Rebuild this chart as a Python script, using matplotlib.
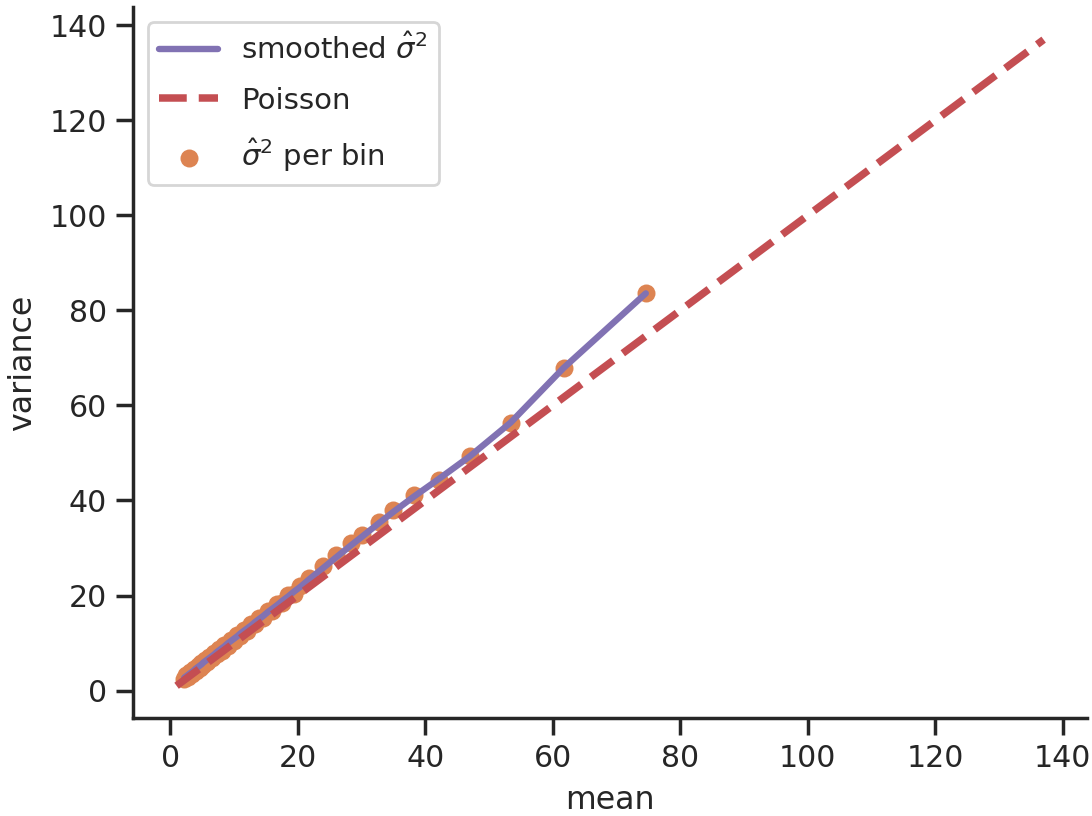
import matplotlib
matplotlib.use('Agg')
import matplotlib.pyplot as plt
import seaborn as sns

# Per-bin mean counts and their sample variances
bin_mean = [2.2, 2.5, 2.8, 3.1, 3.4, 3.7, 4.0, 4.3, 4.6, 4.9,
            5.2, 5.5, 5.8, 6.1, 6.5, 6.9, 7.3, 7.7, 8.1, 8.5,
            9.0, 9.5, 10.0, 10.5, 11.0, 11.5, 12.1, 12.7, 13.3, 13.9,
            14.6, 15.3, 16.0, 16.8, 17.6, 18.5, 19.4, 20.4, 21.8, 24.0,
            26.0, 28.3, 30.1, 32.8, 35.0, 38.2, 42.1, 47.0, 53.4, 61.7,
            74.6]
bin_var = [2.4, 3.2, 2.9, 3.9, 3.4, 4.5, 4.1, 5.2, 4.7, 5.8,
           5.4, 6.5, 6.0, 7.1, 6.8, 7.9, 7.6, 8.8, 8.4, 9.6,
           9.4, 10.7, 10.4, 11.7, 11.5, 12.8, 12.6, 14.0, 13.9, 15.3,
           15.2, 16.8, 16.7, 18.3, 18.4, 20.1, 20.3, 22.0, 23.7, 26.3,
           28.5, 31.0, 32.7, 35.4, 37.9, 41.1, 44.4, 49.3, 56.3, 67.9,
           83.6]
# Smoothed variance evaluated at the same bin means
smooth_var = [2.7, 3.0, 3.3, 3.6, 3.9, 4.2, 4.6, 4.9, 5.2, 5.5,
              5.9, 6.2, 6.5, 6.8, 7.2, 7.6, 8.1, 8.5, 8.9, 9.3,
              9.9, 10.4, 10.9, 11.4, 12.0, 12.5, 13.1, 13.7, 14.4, 15.0,
              15.7, 16.5, 17.2, 18.0, 18.9, 19.8, 20.8, 21.8, 23.4, 25.8,
              28.0, 30.5, 32.4, 35.3, 37.6, 40.8, 44.5, 49.3, 56.4, 67.9,
              83.6]
# Poisson reference: variance equals mean
poisson_range = [1.0, 137.0]

sns.set_theme(style='ticks', context='notebook')
pal = sns.color_palette('deep')

fig, ax = plt.subplots(figsize=(5.46, 4.08), dpi=200)
fig.subplots_adjust(left=0.122, right=0.9954, bottom=0.12, top=0.991)

ax.plot(bin_mean, smooth_var, color=pal[4], lw=2.3,
        label=r'smoothed $\hat{\sigma}^2$')
ax.plot(poisson_range, poisson_range, color=pal[3], lw=2.7, ls='--',
        label='Poisson')
ax.scatter(bin_mean, bin_var, color=pal[1], s=42, linewidths=0,
           label=r'$\hat{\sigma}^2$ per bin')

ax.set_xticks(range(0, 141, 20))
ax.set_yticks(range(0, 141, 20))
ax.tick_params(labelsize=10.8)
ax.set_xlabel('mean', fontsize=11.4)
ax.set_ylabel('variance', fontsize=11.4)
ax.legend(loc='upper left', fontsize=10.5, labelspacing=0.75)
sns.despine()

plt.savefig('out.png')
